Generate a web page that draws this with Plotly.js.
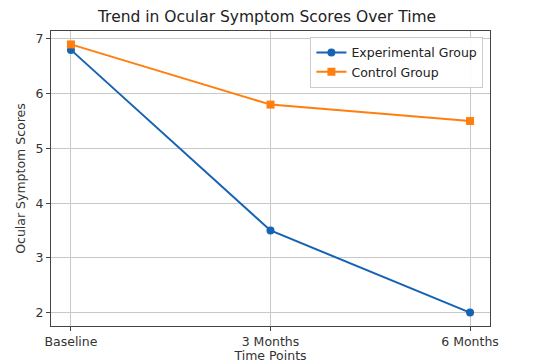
<!DOCTYPE html>
<html>
<head>
<meta charset="utf-8">
<script src="https://cdn.plot.ly/plotly-3.0.1.min.js"></script>
<style>html,body{margin:0;padding:0;background:#fff;}#chart{width:534px;height:363px;}</style>
</head>
<body>
<div id="chart"></div>
<script>
const categories = ["Baseline", "3 Months", "6 Months"];
const experimentalScores = [6.8, 3.5, 2.0];
const controlScores = [6.9, 5.8, 5.5];
const seriesNames = ["Experimental Group", "Control Group"];

const font = "DejaVu Sans, sans-serif";
const traces = [
  {x: categories, y: experimentalScores, name: seriesNames[0], type: "scatter", mode: "lines+markers",
   line: {color: "#1763b3", width: 2}, marker: {color: "#1763b3", size: 8, symbol: "circle"}},
  {x: categories, y: controlScores, name: seriesNames[1], type: "scatter", mode: "lines+markers",
   line: {color: "#ff7f0e", width: 2}, marker: {color: "#ff7f0e", size: 8, symbol: "square"}}
];
const axisCommon = {
  showline: true, mirror: true, linecolor: "#444", linewidth: 1,
  showgrid: true, gridcolor: "#c8c8c8", gridwidth: 1,
  ticks: "outside", ticklen: 4, tickcolor: "#444",
  tickfont: {family: font, size: 12.5, color: "#333"}, zeroline: false
};
const layout = {
  width: 534, height: 363,
  margin: {l: 51, r: 44, t: 31, b: 37},
  paper_bgcolor: "#fff", plot_bgcolor: "#fff",
  title: {text: "Trend in Ocular Symptom Scores Over Time", font: {family: font, size: 15.5, color: "#222"}, x: 0.5, xanchor: "center", y: 0.953, yanchor: "middle"},
  xaxis: Object.assign({}, axisCommon, {type: "category", range: [-0.1, 2.1],
    title: {text: "Time Points", font: {family: font, size: 12.5, color: "#333"}, standoff: 3}}),
  yaxis: Object.assign({}, axisCommon, {range: [1.755, 7.145], dtick: 1,
    title: {text: "Ocular Symptom Scores", font: {family: font, size: 12.5, color: "#333"}, standoff: 7}}),
  legend: {x: 0.985, xanchor: "right", y: 0.98, yanchor: "top", bgcolor: "rgba(255,255,255,0.9)",
    bordercolor: "#ccc", borderwidth: 1, font: {family: font, size: 12.5, color: "#222"}, tracegroupgap: 0},
  showlegend: true
};
Plotly.newPlot("chart", traces, layout, {displayModeBar: false, staticPlot: true});
</script>
</body>
</html>
